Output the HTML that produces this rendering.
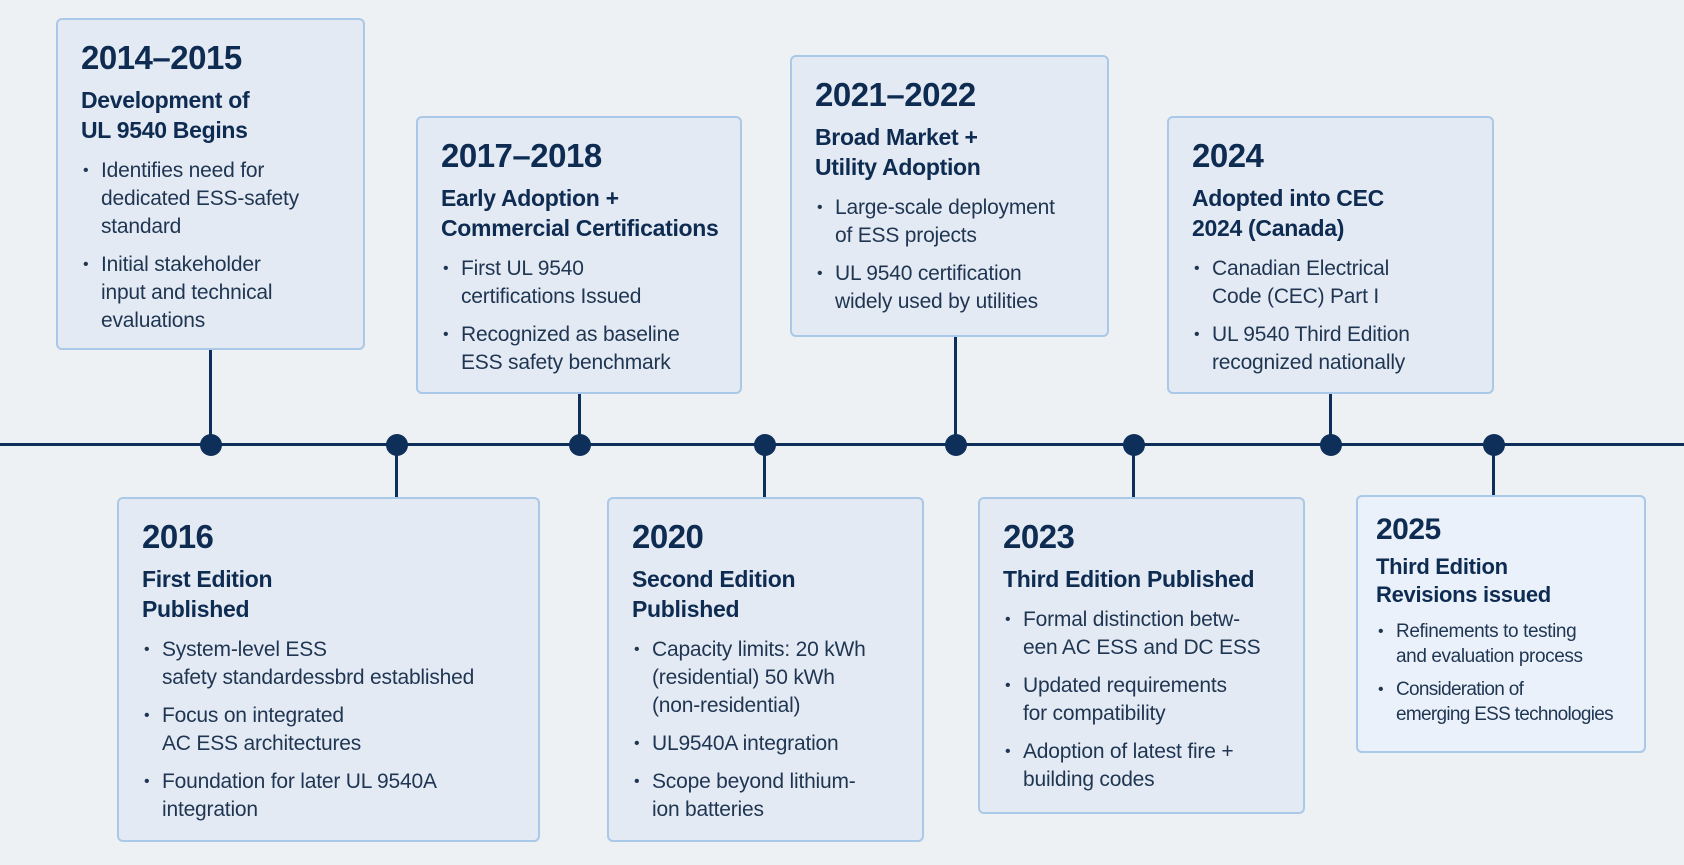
<!DOCTYPE html>
<html><head><meta charset="utf-8"><style>
html,body{margin:0;padding:0}
body{width:1684px;height:865px;background:#eef1f4;position:relative;overflow:hidden;font-family:"Liberation Sans",sans-serif;color:#1f3552}
.b{position:absolute;box-sizing:border-box;background:#e3eaf3;border:2px solid #aac8e8;border-radius:6px;padding:19px 10px 0 23px;white-space:nowrap}
.y{font-size:33px;font-weight:bold;color:#0e2b52;letter-spacing:-0.5px;line-height:38px;margin-bottom:8px}
.h{font-size:23px;font-weight:bold;color:#0e2b52;line-height:30px;margin-bottom:12px;letter-spacing:-0.3px}
ul{margin:0;padding:0;list-style:none}
li{font-size:21px;line-height:28px;padding-left:20px;position:relative;margin-bottom:10px;color:#1f3552;letter-spacing:-0.2px}
li:before{content:"•";position:absolute;left:2px;font-size:16px}
.line{position:absolute;left:0;top:443px;width:1684px;height:3px;background:#0e2f5a}
.d{position:absolute;width:22px;height:22px;border-radius:50%;background:#0e2f5a;top:434px}
.v{position:absolute;width:3px;background:#0e2f5a}
.s li{font-size:19px;line-height:25px;margin-bottom:8px}
</style></head><body>
<div class="line"></div>
<div class="v" style="left:209px;top:350px;height:95px"></div>
<div class="v" style="left:395px;top:445px;height:52px"></div>
<div class="v" style="left:578px;top:394px;height:51px"></div>
<div class="v" style="left:763px;top:445px;height:52px"></div>
<div class="v" style="left:954px;top:337px;height:108px"></div>
<div class="v" style="left:1132px;top:445px;height:52px"></div>
<div class="v" style="left:1329px;top:394px;height:51px"></div>
<div class="v" style="left:1492px;top:445px;height:50px"></div>
<div class="d" style="left:200px"></div>
<div class="d" style="left:386px"></div>
<div class="d" style="left:569px"></div>
<div class="d" style="left:754px"></div>
<div class="d" style="left:945px"></div>
<div class="d" style="left:1123px"></div>
<div class="d" style="left:1320px"></div>
<div class="d" style="left:1483px"></div>

<div class="b" style="left:56px;top:18px;width:309px;height:332px">
<div class="y">2014–2015</div>
<div class="h">Development of<br>UL 9540 Begins</div>
<ul><li>Identifies need for<br>dedicated ESS-safety<br>standard</li><li>Initial stakeholder<br>input and technical<br>evaluations</li></ul></div>

<div class="b" style="left:416px;top:116px;width:326px;height:278px">
<div class="y">2017–2018</div>
<div class="h">Early Adoption +<br>Commercial Certifications</div>
<ul><li>First UL 9540<br>certifications Issued</li><li>Recognized as baseline<br>ESS safety benchmark</li></ul></div>

<div class="b" style="left:790px;top:55px;width:319px;height:282px">
<div class="y">2021–2022</div>
<div class="h">Broad Market +<br>Utility Adoption</div>
<ul><li>Large-scale deployment<br>of ESS projects</li><li>UL 9540 certification<br>widely used by utilities</li></ul></div>

<div class="b" style="left:1167px;top:116px;width:327px;height:278px">
<div class="y">2024</div>
<div class="h">Adopted into CEC<br>2024 (Canada)</div>
<ul><li>Canadian Electrical<br>Code (CEC) Part I</li><li>UL 9540 Third Edition<br>recognized nationally</li></ul></div>

<div class="b" style="left:117px;top:497px;width:423px;height:345px">
<div class="y">2016</div>
<div class="h">First Edition<br>Published</div>
<ul><li>System-level ESS<br>safety standardessbrd established</li><li>Focus on integrated<br>AC ESS architectures</li><li>Foundation for later UL 9540A<br>integration</li></ul></div>

<div class="b" style="left:607px;top:497px;width:317px;height:345px">
<div class="y">2020</div>
<div class="h">Second Edition<br>Published</div>
<ul><li>Capacity limits: 20 kWh<br>(residential) 50 kWh<br>(non-residential)</li><li>UL9540A integration</li><li>Scope beyond lithium-<br>ion batteries</li></ul></div>

<div class="b" style="left:978px;top:497px;width:327px;height:317px">
<div class="y">2023</div>
<div class="h">Third Edition Published</div>
<ul><li>Formal distinction betw-<br>een AC ESS and DC ESS</li><li>Updated requirements<br>for compatibility</li><li>Adoption of latest fire +<br>building codes</li></ul></div>

<div class="b s" style="left:1356px;top:495px;width:290px;height:258px;background:#eaf1fa;padding:16px 6px 0 18px">
<div class="y" style="font-size:30px;line-height:34px;margin-bottom:6px">2025</div>
<div class="h" style="font-size:22px;line-height:28px;margin-bottom:10px">Third Edition<br>Revisions issued</div>
<ul><li style="letter-spacing:-0.4px">Refinements to testing<br>and evaluation process</li><li style="letter-spacing:-0.7px">Consideration of<br>emerging ESS technologies</li></ul></div>
</body></html>
